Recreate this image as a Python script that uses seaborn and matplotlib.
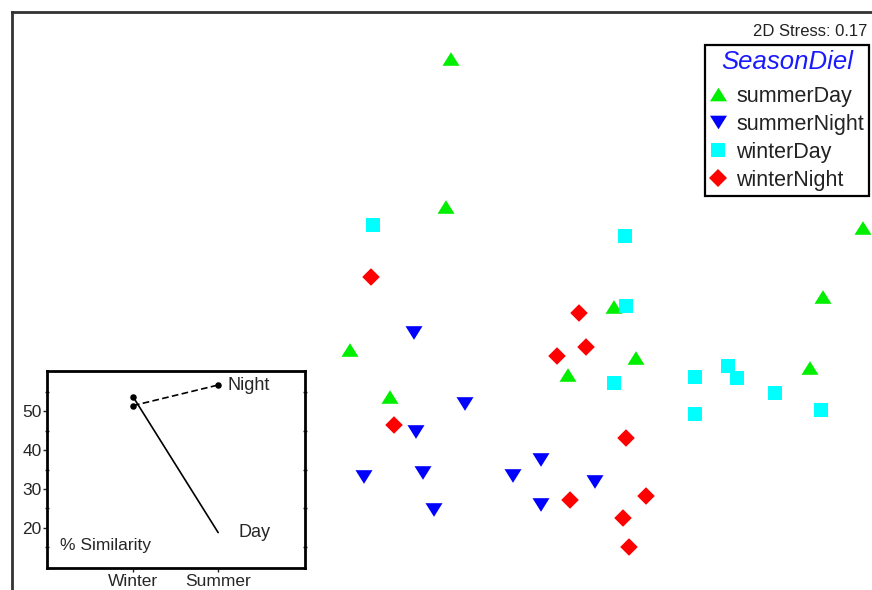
import numpy as np
import pandas as pd
import matplotlib
matplotlib.use("Agg")
import matplotlib.pyplot as plt
from matplotlib.lines import Line2D
from matplotlib.path import Path
import seaborn as sns

sns.set_style("white")
plt.rcParams['font.family'] = ['Liberation Sans', 'DejaVu Sans']

# ---- NMDS data ----
summerDay_x = [0.055, 0.03, 2.115, 1.915, 0.87, -0.45, 0.98, 0.64, 1.85, -0.25]
summerDay_y = [1.205, 0.465, 0.36, 0.015, -0.035, -0.25, -0.29, -0.375, -0.34, -0.485]
summerNight_x = [-0.38, -0.13, 0.125, -0.12, -0.085, -0.03, 0.365, 0.505, 0.505, 0.775]
summerNight_y = [-0.885, -0.165, -0.52, -0.66, -0.865, -1.05, -0.88, -0.80, -1.025, -0.91]
winterDay_x = [-0.335, 0.925, 0.93, 0.87, 1.275, 1.275, 1.44, 1.485, 1.675, 1.905]
winterDay_y = [0.375, 0.32, -0.03, -0.415, -0.385, -0.57, -0.33, -0.39, -0.465, -0.55]
winterNight_x = [-0.345, 0.695, 0.73, 0.585, -0.23, 0.93, 0.65, 1.03, 0.915, 0.945]
winterNight_y = [0.115, -0.065, -0.235, -0.28, -0.625, -0.69, -1.0, -0.98, -1.09, -1.235]

groups = ["summerDay", "summerNight", "winterDay", "winterNight"]
stress_text = "2D Stress: 0.17"

# ---- inset data ----
seasons = ["Winter", "Summer"]
night_sim = [51.4, 56.7]
day_sim = [53.7, 18.8]

colors = {"summerDay": "#00ee00", "summerNight": "#0000ff",
          "winterDay": "#00ffff", "winterNight": "#ff0000"}
tri_up = Path([(0, 0.8), (-1, -0.8), (1, -0.8), (0, 0.8)],
              [Path.MOVETO, Path.LINETO, Path.LINETO, Path.CLOSEPOLY])
tri_dn = Path([(0, -0.8), (-1, 0.8), (1, 0.8), (0, -0.8)],
              [Path.MOVETO, Path.LINETO, Path.LINETO, Path.CLOSEPOLY])
markers = {"summerDay": tri_up, "summerNight": tri_dn,
           "winterDay": "s", "winterNight": "D"}
sizes = {"summerDay": 150, "summerNight": 150, "winterDay": 100, "winterNight": 80}

df = pd.concat([
    pd.DataFrame({"x": summerDay_x, "y": summerDay_y, "g": "summerDay"}),
    pd.DataFrame({"x": summerNight_x, "y": summerNight_y, "g": "summerNight"}),
    pd.DataFrame({"x": winterDay_x, "y": winterDay_y, "g": "winterDay"}),
    pd.DataFrame({"x": winterNight_x, "y": winterNight_y, "g": "winterNight"}),
], ignore_index=True)

W, H = 872, 590
fig = plt.figure(figsize=(W / 100, H / 100), dpi=100)
ax = fig.add_axes([12 / W, 0, 1 - 12 / W, (H - 12) / H])
sns.scatterplot(data=df, x="x", y="y", hue="g", style="g", size="g",
                palette=colors, markers=markers, sizes=sizes,
                linewidth=0, legend=False, ax=ax, zorder=3)
ax.set_xlim(-2.14, 2.16)
ax.set_ylim(-1.45, 1.44)
ax.set_xticks([]); ax.set_yticks([])
ax.set_xlabel(""); ax.set_ylabel("")
for s in ["right", "bottom"]:
    ax.spines[s].set_visible(False)
for s in ["left", "top"]:
    ax.spines[s].set_linewidth(2)
    ax.spines[s].set_color("#333333")

ax.text(0.995, 0.967, stress_text, transform=ax.transAxes, ha="right",
        va="center", fontsize=12, color="#222222")

handles = [Line2D([], [], linestyle="none", marker=markers[g],
                  markersize=(np.sqrt(sizes[g])), markerfacecolor=colors[g],
                  markeredgewidth=0) for g in groups]
leg = ax.legend(handles, groups, title="SeasonDiel", loc="upper right",
                bbox_to_anchor=(0.9965, 0.943), fontsize=15.5,
                title_fontproperties={"size": 18.5, "style": "italic"},
                frameon=True, fancybox=False, framealpha=1, borderpad=0.22,
                labelspacing=0.33, handlelength=0.8, handletextpad=0.45,
                borderaxespad=0)
leg._legend_box.sep = 0.33 * 15.5 + 3.5
leg.get_title().set_color("#1a1aff")
leg.get_frame().set_edgecolor("black")
leg.get_frame().set_linewidth(1.6)
for t in leg.get_texts():
    t.set_color("#222222")

# ---- inset ----
ix = fig.add_axes([47 / W, (H - 568) / H, (305 - 47) / W, (568 - 371) / H])
xpos = [0, 1]
ldf = pd.DataFrame({"x": xpos * 2, "y": night_sim + day_sim,
                    "line": ["Night"] * 2 + ["Day"] * 2})
sns.lineplot(data=ldf, x="x", y="y", style="line",
             dashes={"Night": (4, 2), "Day": ""}, color="black",
             linewidth=1.2, legend=False, ax=ix)
dots = pd.DataFrame({"x": [0, 1, 0], "y": [night_sim[0], night_sim[1], day_sim[0]]})
sns.scatterplot(data=dots, x="x", y="y", color="black", s=22, linewidth=0, ax=ix, zorder=4)
ix.set_xlim(-1.01, 2.02)
ix.set_ylim(9.7, 60.3)
ix.set_xticks(xpos)
ix.set_xticklabels(seasons, fontsize=12.5)
ix.set_yticks([20, 30, 40, 50])
ix.set_yticklabels(["20", "30", "40", "50"], fontsize=12.5)
ix.set_yticks([15, 25, 35, 45, 55], minor=True)
ix.tick_params(axis="y", which="major", direction="out", length=3, width=1, pad=1, left=True)
ix.tick_params(axis="y", which="minor", direction="inout", length=3, width=1, left=True, right=True)
ix.tick_params(axis="x", which="major", direction="out", length=3, width=1, pad=1, bottom=True)
ix.set_xlabel(""); ix.set_ylabel("")
for s in ix.spines.values():
    s.set_linewidth(2)
    s.set_color("black")
ix.text(1.11, 56.7, "Night", fontsize=13, va="center", ha="left")
ix.text(1.235, 18.7, "Day", fontsize=13, va="center", ha="left")
ix.text(-0.86, 15.6, "% Similarity", fontsize=12.5, va="center", ha="left")

fig.savefig("out.png", dpi=100)
